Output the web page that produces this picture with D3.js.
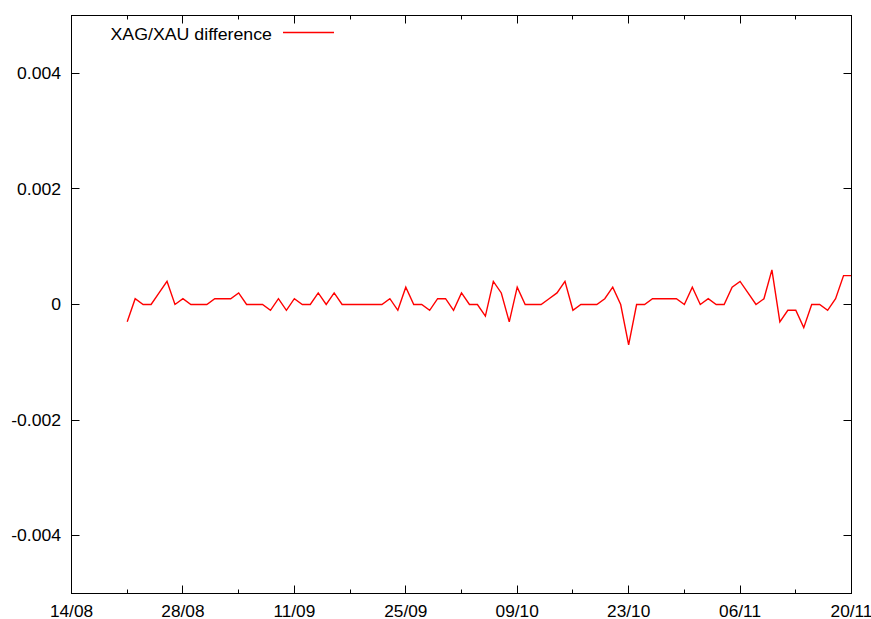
<!DOCTYPE html>
<html>
<head>
<meta charset="utf-8">
<script src="https://cdn.jsdelivr.net/npm/d3@7"></script>
<style>
  html, body { margin: 0; padding: 0; background: #fff; }
  svg { display: block; }
  text { font-family: "Liberation Sans", Arial, sans-serif; }
</style>
</head>
<body>
<div id="chart"></div>
<script>
// XAG/XAU difference, one reading per day from 21/08 to 20/11.
const seriesName = "XAG/XAU difference";
const firstDay = "2009-08-21";
const diffValues = [
  -0.0003, 0.0001, 0, 0, 0.0002, 0.0004, 0, 0.0001, 0, 0,
  0, 0.0001, 0.0001, 0.0001, 0.0002, 0, 0, 0, -0.0001, 0.0001,
  -0.0001, 0.0001, 0, 0, 0.0002, 0, 0.0002, 0, 0, 0,
  0, 0, 0, 0.0001, -0.0001, 0.0003, 0, 0, -0.0001, 0.0001,
  0.0001, -0.0001, 0.0002, 0, 0, -0.0002, 0.0004, 0.0002, -0.0003, 0.0003,
  0, 0, 0, 0.0001, 0.0002, 0.0004, -0.0001, 0, 0, 0,
  0.0001, 0.0003, 0, -0.0007, 0, 0, 0.0001, 0.0001, 0.0001, 0.0001,
  0, 0.0003, 0, 0.0001, 0, 0, 0.0003, 0.0004, 0.0002, 0,
  0.0001, 0.0006, -0.0003, -0.0001, -0.0001, -0.0004, 0, 0, -0.0001, 0.0001,
  0.0005, 0.0005
];
const xDomain = ["2009-08-14", "2009-11-20"];
const yDomain = [-0.005, 0.005];
const yTicks = [-0.004, -0.002, 0, 0.002, 0.004];
const yTickLabels = ["-0.004", "-0.002", "0", "0.002", "0.004"];

const width = 871;
const height = 619;
const plotLeft = 71.5;
const plotRight = 851.5;
const plotTop = 15.5;
const plotBottom = 593.5;
const majorLen = 8;
const minorLen = 4;

const parse = d3.utcParse("%Y-%m-%d");
const start = parse(firstDay);
const rows = diffValues.map((v, i) => ({ date: d3.utcDay.offset(start, i), value: v }));

const x = d3.scaleUtc().domain(xDomain.map(parse)).range([plotLeft, plotRight]);
const y = d3.scaleLinear().domain(yDomain).range([plotBottom, plotTop]);

const svg = d3.create("svg")
  .attr("width", width)
  .attr("height", height)
  .attr("viewBox", `0 0 ${width} ${height}`);

// the reference text is a little wider than it is tall, hence the x stretch
function label(g, tx, ty, str, anchor, stretch = 1.08) {
  return g.append("text")
    .attr("transform", `translate(${tx},${ty}) scale(${stretch},1)`)
    .attr("text-anchor", anchor)
    .attr("font-size", 16)
    .attr("fill", "#000")
    .text(str);
}

// ticks: every 14 days major, every 7 days minor, mirrored on top
const [d0, d1] = x.domain();
const majors = d3.utcDay.range(d0, d3.utcDay.offset(d1, 1), 14);
const minors = d3.utcDay.range(d3.utcDay.offset(d0, 7), d1, 14);
const fmt = d3.utcFormat("%d/%m");

const ticks = svg.append("g").attr("stroke", "#000").attr("stroke-width", 1);
majors.forEach((d) => {
  const px = Math.round(x(d) - 0.5) + 0.5;
  ticks.append("line").attr("x1", px).attr("x2", px).attr("y1", plotBottom).attr("y2", plotBottom - majorLen);
  ticks.append("line").attr("x1", px).attr("x2", px).attr("y1", plotTop).attr("y2", plotTop + majorLen);
});
minors.forEach((d) => {
  const px = Math.round(x(d) - 0.5) + 0.5;
  ticks.append("line").attr("x1", px).attr("x2", px).attr("y1", plotBottom).attr("y2", plotBottom - minorLen);
  ticks.append("line").attr("x1", px).attr("x2", px).attr("y1", plotTop).attr("y2", plotTop + minorLen);
});
yTicks.forEach((v) => {
  const py = Math.round(y(v) - 0.5) + 0.5;
  ticks.append("line").attr("x1", plotLeft).attr("x2", plotLeft + majorLen).attr("y1", py).attr("y2", py);
  ticks.append("line").attr("x1", plotRight).attr("x2", plotRight - majorLen).attr("y1", py).attr("y2", py);
});

const labels = svg.append("g");
majors.forEach((d) => label(labels, x(d), plotBottom + 23.5, fmt(d), "middle"));
yTicks.forEach((v, i) => label(labels, plotLeft - 10.5, y(v) + 5.7, yTickLabels[i], "end", 1.1));

// data line
const line = d3.line().x((d) => x(d.date)).y((d) => y(d.value));
svg.append("path")
  .datum(rows)
  .attr("d", line)
  .attr("fill", "none")
  .attr("stroke", "#ff0000")
  .attr("stroke-width", 1.4)
  .attr("stroke-linejoin", "miter");

// border
svg.append("rect")
  .attr("x", plotLeft).attr("y", plotTop)
  .attr("width", plotRight - plotLeft).attr("height", plotBottom - plotTop)
  .attr("fill", "none").attr("stroke", "#000").attr("stroke-width", 1);

// legend
const legend = svg.append("g");
label(legend, 272, 39.5, seriesName, "end", 1.11);
legend.append("line")
  .attr("x1", 283).attr("x2", 334).attr("y1", 32.5).attr("y2", 32.5)
  .attr("stroke", "#ff0000").attr("stroke-width", 1.4);

document.getElementById("chart").replaceChildren(svg.node());
</script>
</body>
</html>
